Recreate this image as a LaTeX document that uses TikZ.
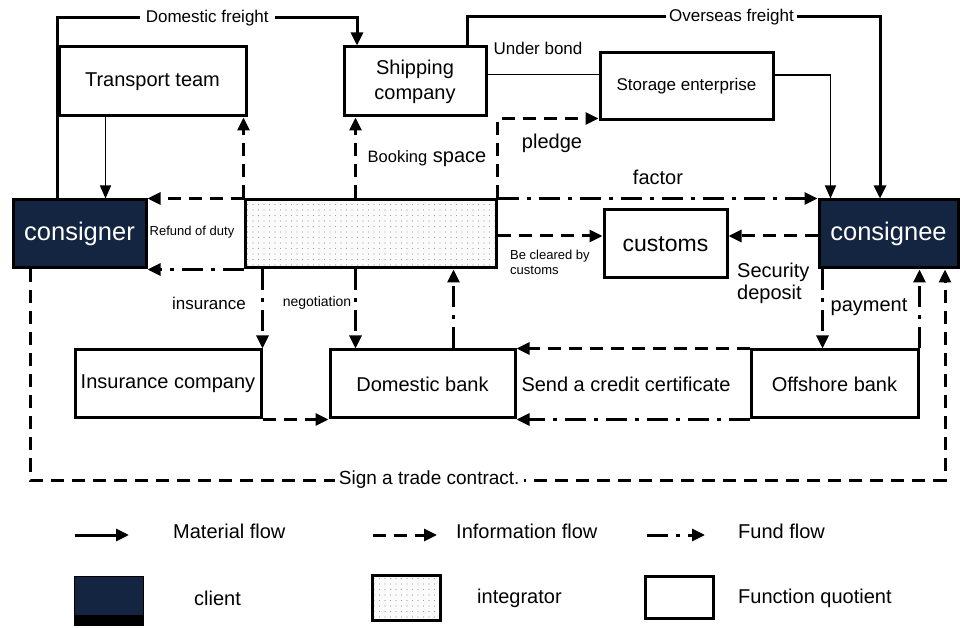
\documentclass[tikz,border=0pt]{standalone}
\usepackage{fontspec}
\setmainfont{Liberation Sans}
\usetikzlibrary{calc}
\usetikzlibrary{positioning}
\usetikzlibrary{arrows.meta}
\usetikzlibrary{patterns.meta}
\definecolor{clientblue}{RGB}{19,37,64}

\begin{document}
\begin{tikzpicture}[x=1pt, y=-1pt,
    box/.style={rectangle, draw=black, line width=3pt, inner sep=0pt, align=center, font=\fontsize{20}{25}\selectfont},
    client/.style={box, fill=clientblue, text=white, font=\fontsize{25.5}{30}\selectfont},
    integ/.style={box, preaction={fill=gray!3}, pattern={Dots[distance=5.5pt, radius=0.6pt]}, pattern color=gray!75},
    lbl/.style={inner sep=1pt, font=\fontsize{20}{22}\selectfont},
    small/.style={font=\fontsize{13}{15}\selectfont},
    mid/.style={font=\fontsize{17}{20}\selectfont},
    mat/.style={line width=3pt, -{Triangle[length=13pt, width=12pt]}},
    matthin/.style={line width=1.5pt, -{Triangle[length=13pt, width=11pt]}},
    info/.style={line width=3pt, dash pattern=on 13pt off 8pt, -{Triangle[length=13pt, width=12pt]}},
    fund/.style={line width=3pt, dash pattern=on 21pt off 8pt on 4pt off 8pt, -{Triangle[length=13pt, width=12pt]}}]
    \useasboundingbox (0,0) rectangle (962,628);

    % main boxes
    \node[client, minimum width=133pt, minimum height=68pt] (consigner) at (79.5,234) {consigner};
    \node[integ, minimum width=251pt, minimum height=68pt] (integrator) at (370.5,234) {};
    \node[client, minimum width=139pt, minimum height=68pt] (consignee) at (888.5,234) {consignee};
    \node[box, minimum width=187pt, minimum height=69pt] (transport) at (152.5,81.5) {Transport team};
    \node[box, minimum width=142pt, minimum height=69pt] (shipping) at (415,81.5) {Shipping\\company};
    \node[box, mid, minimum width=173pt, minimum height=67pt] (storage) at (686.5,86.5) {Storage enterprise};
    \node[box, minimum width=123pt, minimum height=68pt, font=\fontsize{23}{27}\selectfont] (customs) at (665.5,244) {customs};
    \node[box, minimum width=186pt, minimum height=68pt] (insurance) at (168,384) {Insurance company};
    \node[box, minimum width=185pt, minimum height=68pt] (dombank) at (422.5,384) {Domestic bank};
    \node[box, minimum width=167pt, minimum height=68pt] (offbank) at (834.5,384) {Offshore bank};

    % material flow
    \coordinate (df) at (357,18);
    \draw[mat] (consigner.north -| transport.west) |- node[lbl, mid, pos=0.75, fill=white, inner xsep=6pt] (dfl) {Domestic freight} (df) -- (df |- shipping.north);
    \coordinate (tt) at ($(transport.south west)+(48,0)$);
    \draw[matthin] (tt) -- (tt |- consigner.north);
    \coordinate (of) at (880,17);
    \coordinate (os) at ($(shipping.north east)+(-20,0)$);
    \draw[mat] (os) |- node[lbl, mid, pos=0.82, fill=white, inner xsep=3pt] (ofl) {Overseas freight} (of) -- (of |- consignee.north);
    \coordinate (ub) at ($(shipping.east)+(0,-6.5)$);
    \draw[line width=1pt] (ub) -- (ub -| storage.west);
    \node[lbl, mid] (ubl) at (538,48) {Under bond};
    \coordinate (se) at ($(storage.east)+(0,-11.5)$);
    \coordinate (ce) at ($(consignee.north west)+(13,0)$);
    \draw[matthin] (se) -| (ce);

    % information flow
    \draw[info] (integrator.north east) |- ($(storage.south west)+(0,-3)$);
    \node[lbl] (pledgel) at (552,143) {pledge};
    \coordinate (bk) at ($(integrator.north west)+(112,0)$);
    \draw[info] (bk) -- (bk |- shipping.south);
    \node[lbl] (bookl) at (427,159) {{\fontsize{16.5}{20}\selectfont Booking} space};
    \draw[info] (integrator.north west) -- (integrator.north west |- transport.south);
    \draw[info] (integrator.north west) -- (consigner.north east);
    \node[lbl, small] (refundl) at (192,232) {Refund of duty};
    \coordinate (bc) at ($(integrator.east)+(0,2)$);
    \draw[info] (bc) -- (bc -| customs.west);
    \node[lbl, small, align=left, anchor=north west] (clearl) at (509,249) {Be cleared by\\customs};
    \coordinate (sd) at ($(consignee.west)+(0,2)$);
    \draw[info] (sd) -- (sd -| customs.east);
    \node[lbl, align=left, anchor=west] (secl) at (736,283) {Security\\deposit};
    \draw[info] (insurance.south east) -- (dombank.south west);
    \draw[info] (offbank.north west) -- (dombank.north east);
    \coordinate (sg) at (945,480);
    \draw[info] ($(consigner.south west)+(19,0)$) |- node[lbl, pos=0.718, fill=white, inner xsep=4pt, font=\fontsize{19}{22}\selectfont] (signl) {Sign a trade contract.} (sg) -- (sg |- consignee.south);

    % fund flow
    \draw[fund] (integrator.south west) -- (consigner.south east);
    \draw[fund] (integrator.north east) -- (consignee.north west);
    \node[lbl] (factorl) at (658,177) {factor};
    \draw[fund] (integrator.south -| insurance.east) -- (insurance.north east);
    \node[lbl, mid] (insl) at (209,303) {insurance};
    \draw[fund] (integrator.south -| bk) -- (bk |- dombank.north);
    \node[lbl, font=\fontsize{14}{16}\selectfont] (negl) at (317,303) {negotiation};
    \coordinate (db) at ($(dombank.north west)+(125,0)$);
    \draw[fund] (db) -- (db |- integrator.south);
    \draw[fund] (offbank.south west) -- (dombank.south east);
    \node[lbl] (sendl) at (626,384) {Send a credit certificate};
    \coordinate (pm) at ($(consignee.south west)+(5,0)$);
    \draw[fund] (pm) -- (pm |- offbank.north);
    \node[lbl] (payl) at (869,307) {payment};
    \draw[fund] (offbank.north east) -- (offbank.north east |- consignee.south);

    % legend
    \foreach \st/\xa/\xb/\xt/\tx [count=\i] in {mat/75/129/172/Material flow, info/373/437/455/Information flow, fund/647/705/737/Fund flow}
    {
        \coordinate (la\i) at (\xa,535);
        \coordinate (lb\i) at (\xb,535);
        \draw[\st] (la\i) -- (lb\i);
        \node[lbl, anchor=west] (lt\i) at (\xt,531) {\tx};
    }
    \node[rectangle, draw=black, line width=1pt, fill=clientblue, minimum width=69pt, minimum height=49pt,
        path picture={\fill[black] ($(path picture bounding box.south west)+(0,-10)$) rectangle (path picture bounding box.south east);}] (lgclient) at (108.5,600.5) {};
    \node[integ, minimum width=68pt, minimum height=45pt] (lginteg) at (406,597.5) {};
    \node[box, minimum width=68pt, minimum height=42pt] (lgfunc) at (679,597) {};
    \node[lbl, anchor=west] (lgt1) at (193,598) {client};
    \node[lbl, anchor=west] (lgt2) at (476,598) {integrator};
    \node[lbl, anchor=west] (lgt3) at (737,598) {Function quotient};
\end{tikzpicture}
\end{document}
